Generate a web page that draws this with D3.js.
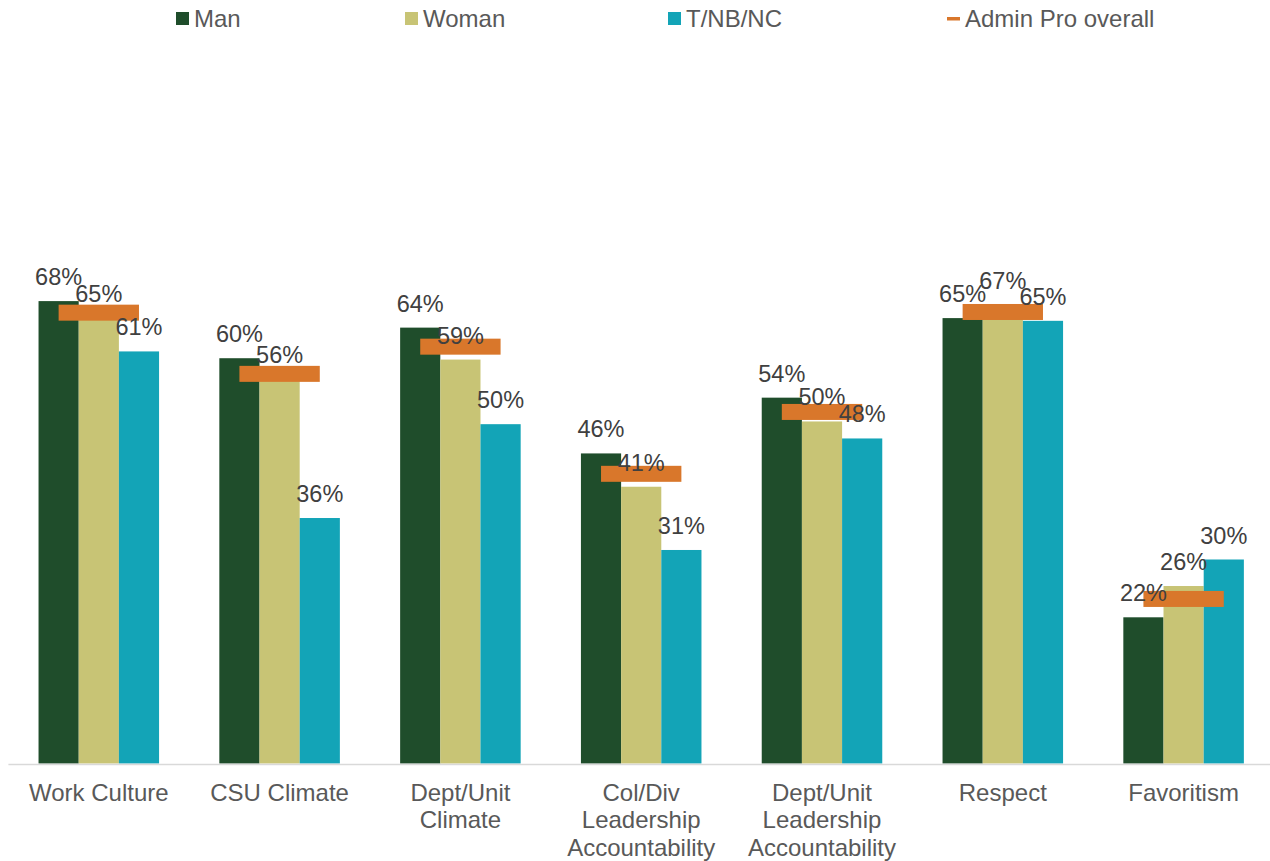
<!DOCTYPE html>
<html>
<head>
<meta charset="utf-8">
<script src="https://cdn.jsdelivr.net/npm/d3@7"></script>
<style>
  html, body { margin: 0; padding: 0; background: #fff; }
  svg { display: block; font-family: "Liberation Sans", Arial, sans-serif; }
</style>
</head>
<body>
<svg id="chart" width="1270" height="861"></svg>
<script>
const categories = ["Work Culture", "CSU Climate", "Dept/Unit Climate", "Col/Div Leadership Accountability", "Dept/Unit Leadership Accountability", "Respect", "Favoritism"];
const categoryLines = [["Work Culture"], ["CSU Climate"], ["Dept/Unit", "Climate"], ["Col/Div", "Leadership", "Accountability"], ["Dept/Unit", "Leadership", "Accountability"], ["Respect"], ["Favoritism"]];
const seriesNames = ["Man", "Woman", "T/NB/NC"];
const manValues = [0.680, 0.596, 0.641, 0.456, 0.538, 0.655, 0.215];
const womanValues = [0.655, 0.565, 0.594, 0.407, 0.503, 0.675, 0.261];
const tnbncValues = [0.606, 0.361, 0.499, 0.314, 0.478, 0.651, 0.300];
const manLabels = ["68%", "60%", "64%", "46%", "54%", "65%", "22%"];
const womanLabels = ["65%", "56%", "59%", "41%", "50%", "67%", "26%"];
const tnbncLabels = ["61%", "36%", "50%", "31%", "48%", "65%", "30%"];
const overallName = "Admin Pro overall";
const overallValues = [0.663, 0.573, 0.613, 0.426, 0.517, 0.664, 0.242];
const colors = ["#1f4d2b", "#c8c475", "#13a4b7"];
const overallColor = "#d9772b";

const seriesValues = [manValues, womanValues, tnbncValues];
const seriesLabels = [manLabels, womanLabels, tnbncLabels];

const svg = d3.select("#chart");

const x = d3.scaleBand().domain(categories).range([8.4, 1274]).paddingInner(1/3).paddingOuter(1/6);
const xs = d3.scaleBand().domain(seriesNames).range([0, x.bandwidth()]).padding(0);
const y = d3.scaleLinear().domain([0, 1]).range([763.5, 83.5]);

// bars
const rows = [];
categories.forEach((c, i) => {
  seriesNames.forEach((s, j) => {
    rows.push({ cat: c, ser: s, j: j, value: seriesValues[j][i], label: seriesLabels[j][i] });
  });
});

svg.append("g").selectAll("rect").data(rows).join("rect")
  .attr("x", d => x(d.cat) + xs(d.ser))
  .attr("y", d => y(d.value))
  .attr("width", xs.bandwidth())
  .attr("height", d => y(0) - y(d.value))
  .attr("fill", d => colors[d.j]);

// axis line
svg.append("line")
  .attr("x1", 8.4).attr("x2", 1270)
  .attr("y1", y(0) + 1).attr("y2", y(0) + 1)
  .attr("stroke", "#d9d9d9").attr("stroke-width", 1.5);

// overall markers
const markerH = 16;
svg.append("g").selectAll("rect").data(categories).join("rect")
  .attr("x", (c) => x(c) + x.bandwidth() / 2 - xs.bandwidth())
  .attr("y", (c, i) => y(overallValues[i]) - markerH / 2)
  .attr("width", xs.bandwidth() * 2)
  .attr("height", markerH)
  .attr("fill", overallColor);

// data labels
svg.append("g").selectAll("text").data(rows).join("text")
  .attr("x", d => x(d.cat) + xs(d.ser) + xs.bandwidth() / 2)
  .attr("y", d => y(d.value) - 16)
  .attr("text-anchor", "middle")
  .attr("font-size", 23.5)
  .attr("fill", "#404040")
  .text(d => d.label);

// category labels
const catG = svg.append("g");
categories.forEach((c, i) => {
  const t = catG.append("text")
    .attr("x", x(c) + x.bandwidth() / 2)
    .attr("y", 801)
    .attr("text-anchor", "middle")
    .attr("font-size", 24)
    .attr("fill", "#595959");
  categoryLines[i].forEach((line, k) => {
    t.append("tspan").attr("x", x(c) + x.bandwidth() / 2).attr("y", 801 + k * 27.3).text(line);
  });
});

// legend
const legendItems = [
  { name: seriesNames[0], color: colors[0], sx: 176, type: "box" },
  { name: seriesNames[1], color: colors[1], sx: 405, type: "box" },
  { name: seriesNames[2], color: colors[2], sx: 668, type: "box" },
  { name: overallName, color: overallColor, sx: 947, type: "line" }
];
const lg = svg.append("g");
legendItems.forEach(it => {
  if (it.type === "box") {
    lg.append("rect").attr("x", it.sx).attr("y", 12).attr("width", 13).attr("height", 13).attr("fill", it.color);
  } else {
    lg.append("rect").attr("x", it.sx).attr("y", 17).attr("width", 13).attr("height", 3.5).attr("fill", it.color);
  }
  lg.append("text")
    .attr("x", it.sx + 18).attr("y", 27)
    .attr("font-size", 24)
    .attr("fill", "#595959")
    .text(it.name);
});
</script>
</body>
</html>
